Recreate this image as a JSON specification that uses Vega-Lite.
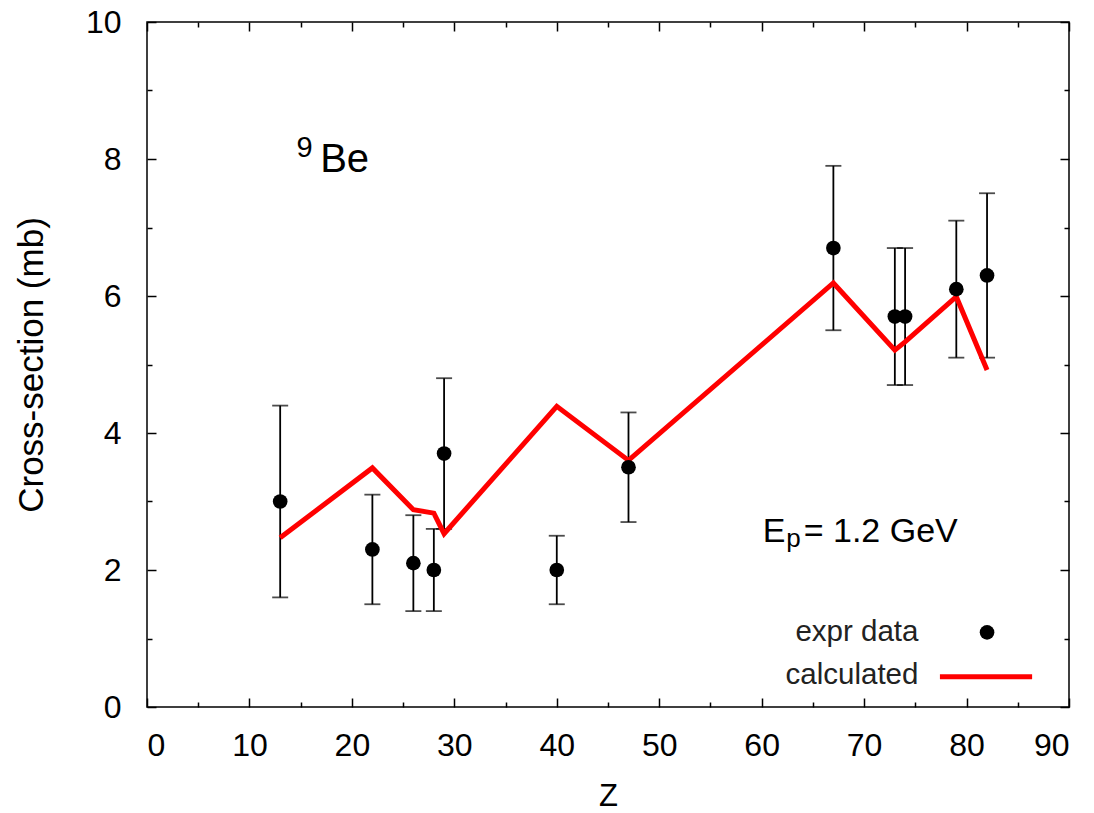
{
  "$schema": "https://vega.github.io/schema/vega-lite/v6.json",
  "width": 922,
  "height": 685,
  "autosize": {"type": "none"},
  "padding": {"left": 147, "top": 22, "right": 25, "bottom": 106},
  "background": "white",
  "config": {
    "font": "Liberation Sans",
    "view": {"stroke": "black", "strokeWidth": 1.5},
    "axis": {
      "domain": false,
      "grid": false,
      "tickColor": "black",
      "tickWidth": 1.5,
      "labelColor": "black",
      "titleColor": "black",
      "labelFont": "Liberation Sans",
      "titleFont": "Liberation Sans",
      "labelFontSize": 32,
      "titleFontSize": 27,
      "titleFontWeight": "normal",
      "titleLimit": 2000
    }
  },
  "datasets": {
    "expr": [
      {"Z": 13, "s": 3.0, "lo": 1.6, "hi": 4.4},
      {"Z": 22, "s": 2.3, "lo": 1.5, "hi": 3.1},
      {"Z": 26, "s": 2.1, "lo": 1.4, "hi": 2.8},
      {"Z": 28, "s": 2.0, "lo": 1.4, "hi": 2.6},
      {"Z": 29, "s": 3.7, "lo": 2.6, "hi": 4.8},
      {"Z": 40, "s": 2.0, "lo": 1.5, "hi": 2.5},
      {"Z": 47, "s": 3.5, "lo": 2.7, "hi": 4.3},
      {"Z": 67, "s": 6.7, "lo": 5.5, "hi": 7.9},
      {"Z": 73, "s": 5.7, "lo": 4.7, "hi": 6.7},
      {"Z": 74, "s": 5.7, "lo": 4.7, "hi": 6.7},
      {"Z": 79, "s": 6.1, "lo": 5.1, "hi": 7.1},
      {"Z": 82, "s": 6.3, "lo": 5.1, "hi": 7.5}
    ],
    "calc": [
      {"Z": 13, "s": 2.47},
      {"Z": 22, "s": 3.49},
      {"Z": 26, "s": 2.88},
      {"Z": 28, "s": 2.83},
      {"Z": 29, "s": 2.53},
      {"Z": 40, "s": 4.39},
      {"Z": 47, "s": 3.6},
      {"Z": 67, "s": 6.19},
      {"Z": 73, "s": 5.21},
      {"Z": 74, "s": 5.33},
      {"Z": 79, "s": 5.99},
      {"Z": 82, "s": 4.92}
    ],
    "legtext": [
      {"Z": 75.3, "s": 1.09, "label": "expr data"},
      {"Z": 75.3, "s": 0.46, "label": "calculated"}
    ],
    "legpoint": [{"Z": 82.0, "s": 1.09}],
    "legline": [{"Z": 77.4, "s": 0.44}, {"Z": 86.4, "s": 0.44}],
    "big": [
      {"Z": 16.9, "s": 7.81, "label": "Be"},
      {"Z": 60.1, "s": 2.41, "label": "E"},
      {"Z": 64.1, "s": 2.41, "label": "= 1.2 GeV"}
    ],
    "small": [
      {"Z": 14.6, "s": 8.03, "label": "9"},
      {"Z": 62.4, "s": 2.34, "label": "p"}
    ]
  },
  "resolve": {"axis": {"x": "independent", "y": "independent"}},
  "layer": [
    {
      "data": {"name": "expr"},
      "mark": {"type": "rule", "color": "black", "strokeWidth": 1.8},
      "encoding": {
        "x": {
          "field": "Z", "type": "quantitative",
          "scale": {"domain": [0, 90], "nice": false, "zero": false},
          "axis": {
            "orient": "bottom",
            "title": "Z",
            "titleFontSize": 31,
            "values": [0,5,10,15,20,25,30,35,40,45,50,55,60,65,70,75,80,85,90],
            "labelExpr": "datum.value % 10 === 0 ? datum.label : ''",
            "tickSize": {"condition": {"test": "datum.value % 10 === 0", "value": -9}, "value": -5},
            "labelPadding": 32,
            "titlePadding": 20
          }
        },
        "y": {
          "field": "lo", "type": "quantitative",
          "scale": {"domain": [0, 10], "nice": false},
          "axis": {
            "orient": "left",
            "title": "Cross-section (mb)",
            "titleFontSize": 35,
            "values": [0,1,2,3,4,5,6,7,8,9,10],
            "labelExpr": "datum.value % 2 === 0 ? datum.label : ''",
            "tickSize": {"condition": {"test": "datum.value % 2 === 0", "value": -9}, "value": -5},
            "labelPadding": 35,
            "titlePadding": 36
          }
        },
        "y2": {"field": "hi"}
      }
    },
    {
      "data": {"name": "expr"},
      "mark": {"type": "tick", "color": "black", "orient": "horizontal", "size": 16, "thickness": 1.8},
      "encoding": {
        "x": {
          "field": "Z", "type": "quantitative",
          "scale": {"domain": [0, 90], "nice": false, "zero": false},
          "axis": {
            "orient": "top",
            "title": null,
            "labels": false,
            "values": [0,5,10,15,20,25,30,35,40,45,50,55,60,65,70,75,80,85,90],
            "tickSize": {"condition": {"test": "datum.value % 10 === 0", "value": -9}, "value": -5}
          }
        },
        "y": {
          "field": "hi", "type": "quantitative",
          "scale": {"domain": [0, 10], "nice": false},
          "axis": {
            "orient": "right",
            "title": null,
            "labels": false,
            "values": [0,1,2,3,4,5,6,7,8,9,10],
            "tickSize": {"condition": {"test": "datum.value % 2 === 0", "value": -9}, "value": -5}
          }
        }
      }
    },
    {
      "data": {"name": "expr"},
      "mark": {"type": "tick", "color": "black", "orient": "horizontal", "size": 16, "thickness": 1.8},
      "encoding": {
        "x": {"field": "Z", "type": "quantitative", "axis": null},
        "y": {"field": "lo", "type": "quantitative", "axis": null}
      }
    },
    {
      "data": {"name": "calc"},
      "mark": {"type": "line", "color": "#ff0000", "strokeWidth": 5, "strokeJoin": "miter"},
      "encoding": {
        "x": {"field": "Z", "type": "quantitative", "axis": null},
        "y": {"field": "s", "type": "quantitative", "axis": null}
      }
    },
    {
      "data": {"name": "expr"},
      "mark": {"type": "circle", "color": "black", "opacity": 1, "size": 215},
      "encoding": {
        "x": {"field": "Z", "type": "quantitative", "axis": null},
        "y": {"field": "s", "type": "quantitative", "axis": null}
      }
    },
    {
      "data": {"name": "legtext"},
      "mark": {"type": "text", "align": "right", "baseline": "middle", "fontSize": 29.5, "color": "#222222", "font": "Liberation Sans"},
      "encoding": {
        "x": {"field": "Z", "type": "quantitative", "axis": null},
        "y": {"field": "s", "type": "quantitative", "axis": null},
        "text": {"field": "label"}
      }
    },
    {
      "data": {"name": "legpoint"},
      "mark": {"type": "circle", "color": "black", "opacity": 1, "size": 215},
      "encoding": {
        "x": {"field": "Z", "type": "quantitative", "axis": null},
        "y": {"field": "s", "type": "quantitative", "axis": null}
      }
    },
    {
      "data": {"name": "legline"},
      "mark": {"type": "line", "color": "#ff0000", "strokeWidth": 5},
      "encoding": {
        "x": {"field": "Z", "type": "quantitative", "axis": null},
        "y": {"field": "s", "type": "quantitative", "axis": null}
      }
    },
    {
      "data": {"name": "big"},
      "mark": {"type": "text", "align": "left", "baseline": "alphabetic", "fontSize": 34, "color": "black", "font": "Liberation Sans"},
      "encoding": {
        "x": {"field": "Z", "type": "quantitative", "axis": null},
        "y": {"field": "s", "type": "quantitative", "axis": null},
        "text": {"field": "label"},
        "size": {"condition": {"test": "datum.label === 'Be'", "value": 40}, "value": 34}
      }
    },
    {
      "data": {"name": "small"},
      "mark": {"type": "text", "align": "left", "baseline": "alphabetic", "fontSize": 26, "color": "black", "font": "Liberation Sans"},
      "encoding": {
        "x": {"field": "Z", "type": "quantitative", "axis": null},
        "y": {"field": "s", "type": "quantitative", "axis": null},
        "text": {"field": "label"},
        "size": {"condition": {"test": "datum.label === '9'", "value": 29}, "value": 26}
      }
    }
  ]
}
